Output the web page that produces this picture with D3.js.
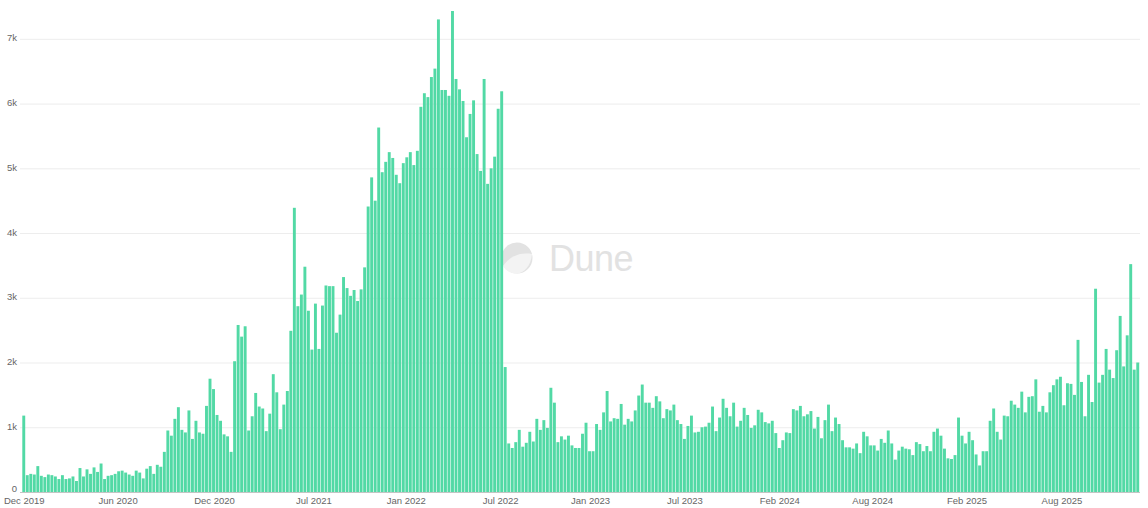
<!DOCTYPE html>
<html><head><meta charset="utf-8">
<script src="https://cdn.jsdelivr.net/npm/d3@7"></script>
<style>
html,body{margin:0;padding:0;background:#fff;}
svg{display:block;font-family:"Liberation Sans",Arial,sans-serif;}
</style>
</head><body>
<svg id="chart" width="1148" height="508"></svg>
<script>
// ---- data ----
const firstWeek = "2019-12-02";   // weekly buckets (Monday)
const weeklyCount = [
 1180,260,280,270,400,250,230,270,260,240,200,260,200,210,240,170,370,240,350,280,380,310,440,200,250,260,280,320,330,300,270,
 250,330,300,210,360,400,280,420,390,620,950,870,1130,1310,960,920,1260,820,1100,920,900,1330,1750,1590,1190,1100,890,860,620,2020,2580,
 2400,2560,950,1170,1530,1320,1290,940,1210,1820,1540,970,1350,1560,2490,4390,2870,3050,3480,2800,2200,2910,2210,2880,3190,3180,3180,2460,2740,3320,
 3150,3030,3120,2950,3130,3470,4410,4860,4500,5630,4940,5100,5250,5160,4900,4770,5080,5170,5250,5050,5270,5950,
 6160,6100,6410,6540,7300,6210,6210,6120,7430,6380,6220,6040,5480,5840,6050,5220,4960,6380,4760,5000,5180,5920,6190,1930,750,680,
 770,960,700,760,930,780,1130,960,1110,990,1610,1380,770,860,810,870,720,680,680,900,1070,630,630,1050,960,1230,1560,1090,1140,
 1130,1360,1040,1130,1090,1260,1490,1660,1380,1380,1300,1480,1400,1140,1280,1260,1350,1110,1050,820,1020,1180,920,930,1000,1010,1070,1320,940,1150,1440,
 1300,1170,1380,1010,1100,1300,1190,990,1030,1270,1230,1080,1060,1100,910,680,800,920,910,1280,1260,1330,1170,1200,1250,980,1160,830,1110,1350,940,
 1150,1050,800,690,690,670,750,600,930,860,720,720,640,820,760,950,750,500,640,700,670,660,570,770,740,630,710,630,930,980,870,
 670,520,510,570,1150,870,750,930,800,580,410,630,630,1100,1290,930,810,1180,1170,1410,1350,1300,1550,1230,1470,1480,1740,1240,1330,1230,1540,1650,
 1740,1780,1340,1680,1670,1500,2350,1700,1170,1810,1390,3140,1690,1810,2210,1890,1760,2190,2720,1940,2420,3520,1890,2000
];
const tickDates  = ["2019-12-02","2020-06-06","2020-12-15","2021-07-01","2022-01-01","2022-07-08",
                    "2023-01-03","2023-07-10","2024-01-15","2024-07-18","2025-01-22","2025-07-30"];
const tickLabels = ["Dec 2019","Jun 2020","Dec 2020","Jul 2021","Jan 2022","Jul 2022",
                    "Jan 2023","Jul 2023","Feb 2024","Aug 2024","Feb 2025","Aug 2025"];
const yTickValues = [0,1000,2000,3000,4000,5000,6000,7000];

// ---- build ----
const parse = d3.utcParse("%Y-%m-%d");
const start = parse(firstWeek);
const rows = weeklyCount.map((v,i)=>({date:d3.utcDay.offset(start,7*i), value:v}));

const svg = d3.select("#chart");
const left = 22, right = 1139.5, base = 492;

const x = d3.scaleUtc()
  .domain([d3.utcHour.offset(rows[0].date,-84), d3.utcHour.offset(rows[rows.length-1].date,84)])
  .range([left, right]);
const step = x(rows[1].date) - x(rows[0].date);
const y = d3.scaleLinear().domain([0,7600]).range([base,0]);

// grid
svg.append("g").selectAll("line").data(yTickValues.slice(1)).join("line")
  .attr("x1",20).attr("x2",1140)
  .attr("y1",d=>y(d)+0.5).attr("y2",d=>y(d)+0.5)
  .attr("stroke","#ededed").attr("stroke-width",1);

// watermark
const wm = svg.append("g");
wm.append("circle").attr("cx",517).attr("cy",258).attr("r",15.5).attr("fill","#e2e2e2");
wm.append("path").attr("d","M503,266 C510,256 520,252 532,254 C531,266 524,273 517,273.5 C510,273.5 505,270 503,266 Z").attr("fill","#f3f3f3");
wm.append("text").attr("x",549).attr("y",271).attr("font-size",36).attr("fill","#e2e2e2")
  .attr("font-family","'Liberation Sans',Arial,sans-serif").attr("letter-spacing","-0.5").text("Dune");

// bars
svg.append("g").selectAll("rect").data(rows).join("rect")
  .attr("x",d=>x(d.date)-step/2+0.3)
  .attr("width",step-0.6)
  .attr("y",d=>y(d.value))
  .attr("height",d=>base-y(d.value))
  .attr("fill","#52d9a5");

// baseline
svg.append("line").attr("x1",20).attr("x2",1140).attr("y1",base+0.5).attr("y2",base+0.5)
  .attr("stroke","#c4c4c4").attr("stroke-width",1);

// y axis labels
const yAxis = d3.axisLeft(y).tickValues(yTickValues).tickSize(0).tickPadding(0)
  .tickFormat(d=> d===0 ? "0" : (d/1000)+"k");
const gy = svg.append("g").attr("transform","translate(17,-1)").call(yAxis);
gy.select(".domain").remove();
gy.selectAll("text").attr("fill","#666").attr("font-size",9.5).attr("font-family","'Liberation Sans',Arial,sans-serif");
gy.selectAll(".tick").filter(d=>d===0).select("text").attr("y",-2.5);

// x axis labels
const xAxis = d3.axisBottom(x).tickValues(tickDates.map(parse)).tickSize(0).tickPadding(0)
  .tickFormat((d,i)=>tickLabels[i]);
const gx = svg.append("g").attr("transform","translate(0,497)").call(xAxis);
gx.select(".domain").remove();
gx.selectAll("text").attr("fill","#666").attr("font-size",9.5).attr("font-family","'Liberation Sans',Arial,sans-serif");
</script>
</body></html>
